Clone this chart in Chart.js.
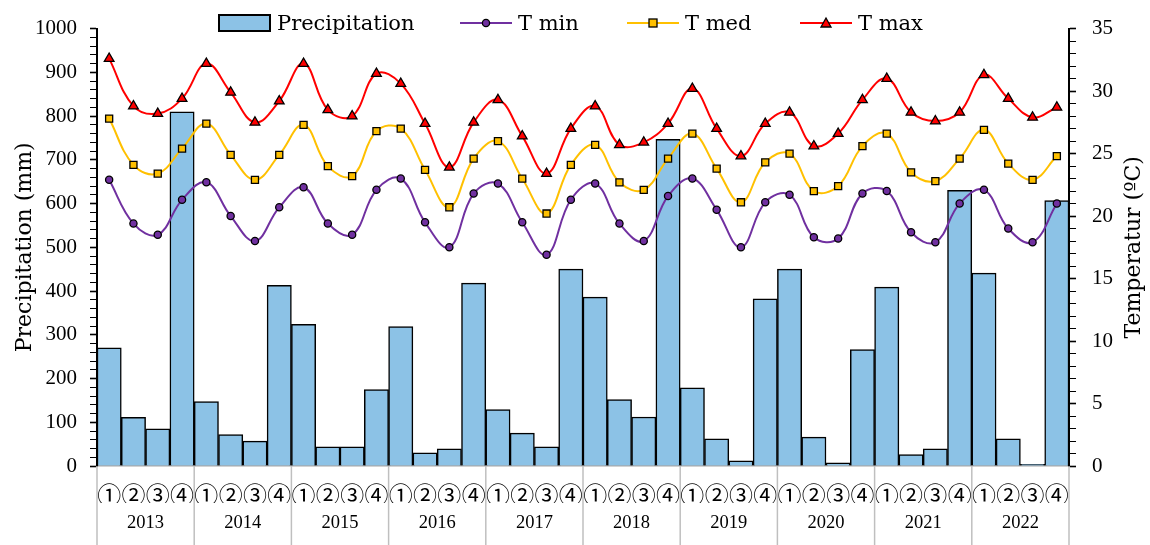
<!DOCTYPE html>
<html>
<head>
<meta charset="utf-8">
<script src="https://cdn.jsdelivr.net/npm/chart.js@4"></script>
<style>
  body { margin: 0; background: #fff; }
  #wrap { position: relative; width: 1150px; height: 545px; }
  #legend { position: absolute; left: 0; top: 0; width: 1150px; height: 48px; }
  .item { position: absolute; top: 11px; display: flex; align-items: center;
          font-family: 'DejaVu Serif', serif; font-size: 21px; color: #000; white-space: nowrap; }
  .item svg { margin-right: 6px; }
</style>
</head>
<body>
<div id="wrap">
  <canvas id="chart" width="1150" height="545"></canvas>
  <div id="legend"></div>
</div>
<script>
// ---------- data ----------
const years = ['2013', '2014', '2015', '2016', '2017', '2018', '2019', '2020', '2021', '2022'];
const quarters = ['①', '②', '③', '④'];

// precipitation per quarter (mm)
const precipitation = [
    270, 111, 85, 810,
    147, 72, 57, 413,
    324, 44, 44, 175,
    319, 30, 39, 418,
    129, 75, 44, 450,
    386, 152, 112, 747,
    179, 62, 12, 382,
    450, 66, 7, 266,
    409, 26, 39, 630,
    441, 62, 4, 607
];

// temperatures per quarter (ºC)
const tMin = [
    22.9, 19.4, 18.5, 21.3,
    22.7, 20.0, 18.0, 20.7,
    22.3, 19.4, 18.5, 22.1,
    23.0, 19.5, 17.5, 21.8,
    22.6, 19.5, 16.9, 21.3,
    22.6, 19.4, 18.0, 21.6,
    23.0, 20.5, 17.5, 21.1,
    21.7, 18.3, 18.2, 21.8,
    22.0, 18.7, 17.9, 21.0,
    22.1, 19.0, 17.9, 21.0
];
const tMed = [
    27.8, 24.1, 23.4, 25.4,
    27.4, 24.9, 22.9, 24.9,
    27.3, 24.0, 23.2, 26.8,
    27.0, 23.7, 20.7, 24.6,
    26.0, 23.0, 20.2, 24.1,
    25.7, 22.7, 22.1, 24.6,
    26.6, 23.8, 21.1, 24.3,
    25.0, 22.0, 22.4, 25.6,
    26.6, 23.5, 22.8, 24.6,
    26.9, 24.2, 22.9, 24.8
];
const tMax = [
    32.6, 28.8, 28.2, 29.4,
    32.2, 29.9, 27.5, 29.2,
    32.2, 28.5, 28.0, 31.4,
    30.6, 27.4, 23.9, 27.5,
    29.3, 26.4, 23.4, 27.0,
    28.8, 25.7, 25.9, 27.4,
    30.2, 27.0, 24.8, 27.4,
    28.3, 25.6, 26.6, 29.3,
    31.0, 28.3, 27.6, 28.3,
    31.3, 29.4, 27.9, 28.7
];

// ---------- styles ----------
const BAR_COLOR = '#8CC2E6';
const MIN_COLOR = '#7030A0';
const MED_COLOR = '#FFC000';
const MAX_COLOR = '#FF0000';
const SEP_COLOR = '#BFBFBF';
const TICK_FONT = { family: "'Liberation Serif', serif", size: 21 };

const labels = years.flatMap(() => quarters);

function lineSet(label, data, color, style, radius) {
    return {
        type: 'line', label, data,
        yAxisID: 'yT', order: 1,
        borderColor: color, borderWidth: 2,
        pointStyle: style, pointRadius: radius,
        pointBackgroundColor: color, pointBorderColor: '#000', pointBorderWidth: 1.3,
        tension: 0.4, fill: false
    };
}

// year separator lines below the plot
const yearSeparators = {
    id: 'yearSeparators',
    afterDraw(chart) {
        const x = chart.scales.x;
        const ctx = chart.ctx;
        const half = (x.getPixelForValue(1) - x.getPixelForValue(0)) / 2;
        ctx.save();
        ctx.strokeStyle = SEP_COLOR;
        ctx.lineWidth = 1.5;
        for (let i = 0; i <= years.length; i++) {
            const px = i < years.length
                ? x.getPixelForValue(i * 4) - half
                : x.getPixelForValue(i * 4 - 1) + half;
            ctx.beginPath();
            ctx.moveTo(px, chart.chartArea.bottom);
            ctx.lineTo(px, chart.height);
            ctx.stroke();
        }
        ctx.restore();
    }
};

// right title, reading bottom to top like the left one
const rightTitle = {
    id: 'rightTitle',
    afterDraw(chart) {
        const s = chart.scales.yT;
        const ctx = chart.ctx;
        ctx.save();
        ctx.translate(s.right - 16, (chart.chartArea.top + chart.chartArea.bottom) / 2);
        ctx.rotate(-Math.PI / 2);
        ctx.font = "22px 'DejaVu Serif', serif";
        ctx.fillStyle = '#000';
        ctx.textAlign = 'center';
        ctx.textBaseline = 'middle';
        ctx.fillText('Temperatur (ºC)', 0, 0);
        ctx.restore();
    }
};

const chart = new Chart(document.getElementById('chart'), {
    data: {
        labels,
        datasets: [
            {
                type: 'bar', label: 'Precipitation', data: precipitation,
                yAxisID: 'yP', order: 2,
                backgroundColor: BAR_COLOR, borderColor: '#000', borderWidth: 1.5,
                barPercentage: 1, categoryPercentage: 1
            },
            lineSet('T min', tMin, MIN_COLOR, 'circle', 3.6),
            lineSet('T med', tMed, MED_COLOR, 'rect', 5),
            lineSet('T max', tMax, MAX_COLOR, 'triangle', 5.6)
        ]
    },
    options: {
        responsive: false,
        animation: false,
        devicePixelRatio: 1,
        layout: { padding: { top: 22, left: 0, right: 0, bottom: 0 } },
        plugins: { legend: { display: false }, tooltip: { enabled: false } },
        scales: {
            x: {
                type: 'category', position: 'bottom', weight: 0, offset: true,
                grid: { display: false },
                border: { color: '#A6A6A6', width: 1.5 },
                ticks: {
                    autoSkip: false, maxRotation: 0, padding: 6, color: '#000',
                    font: { family: "'Noto Sans CJK JP', sans-serif", size: 24 }
                },
                afterFit(s) { s.height = 37; }
            },
            xYear: {
                type: 'category', labels: years, position: 'bottom', weight: 1, offset: true,
                grid: { display: false },
                border: { display: false },
                ticks: { autoSkip: false, maxRotation: 0, padding: 1, color: '#000',
                         font: { family: "'Liberation Serif', serif", size: 18.5 } },
                afterFit(s) { s.height = 42; }
            },
            yP: {
                type: 'linear', position: 'left', min: 0, max: 1000,
                grid: { drawOnChartArea: false, color: '#000', tickLength: 7,
                        tickWidth: c => (c.tick && c.tick.value % 100 === 0 ? 1.6 : 1) },
                border: { color: '#000', width: 2 },
                ticks: {
                    stepSize: 20, autoSkip: false, padding: 13, color: '#000', font: TICK_FONT,
                    callback: v => (v % 100 === 0 ? v : '')
                },
                title: {
                    display: true, text: 'Precipitation (mm)', color: '#000',
                    font: { family: "'DejaVu Serif', serif", size: 22 },
                    padding: { top: 12, bottom: 0 }
                },
                afterFit(s) { s.width = 97; }
            },
            yT: {
                type: 'linear', position: 'right', min: 0, max: 35,
                grid: { drawOnChartArea: false, color: '#000', tickLength: 7,
                        tickWidth: c => (c.tick && c.tick.value % 5 === 0 ? 1.6 : 1) },
                border: { color: '#000', width: 2 },
                ticks: {
                    stepSize: 1, autoSkip: false, padding: 16, color: '#000', font: TICK_FONT,
                    callback: v => (v % 5 === 0 ? v : '')
                },
                afterFit(s) { s.width = 81; }
            }
        }
    },
    plugins: [yearSeparators, rightTitle]
});

// ---------- html legend ----------
const legendLeft = [218, 460, 627, 800];
const markerSvg = {
    circle: c => `<circle cx="26" cy="8" r="3.6" fill="${c}" stroke="#000" stroke-width="1.3"/>`,
    rect: c => `<rect x="22" y="4" width="8" height="8" fill="${c}" stroke="#000" stroke-width="1.3"/>`,
    triangle: c => `<polygon points="26,3 31,12 21,12" fill="${c}" stroke="#000" stroke-width="1.3"/>`
};
const legend = document.getElementById('legend');
chart.data.datasets.forEach((ds, i) => {
    const item = document.createElement('div');
    item.className = 'item';
    item.style.left = legendLeft[i] + 'px';
    let key;
    if (ds.type === 'bar') {
        key = `<svg width="53" height="18"><rect x="1" y="1" width="51" height="16" fill="${ds.backgroundColor}" stroke="#000" stroke-width="2"/></svg>`;
    } else {
        key = `<svg width="52" height="16"><line x1="0" y1="8" x2="52" y2="8" stroke="${ds.borderColor}" stroke-width="2"/>${markerSvg[ds.pointStyle](ds.borderColor)}</svg>`;
    }
    item.innerHTML = key + '<span>' + ds.label + '</span>';
    legend.appendChild(item);
});
</script>
</body>
</html>
